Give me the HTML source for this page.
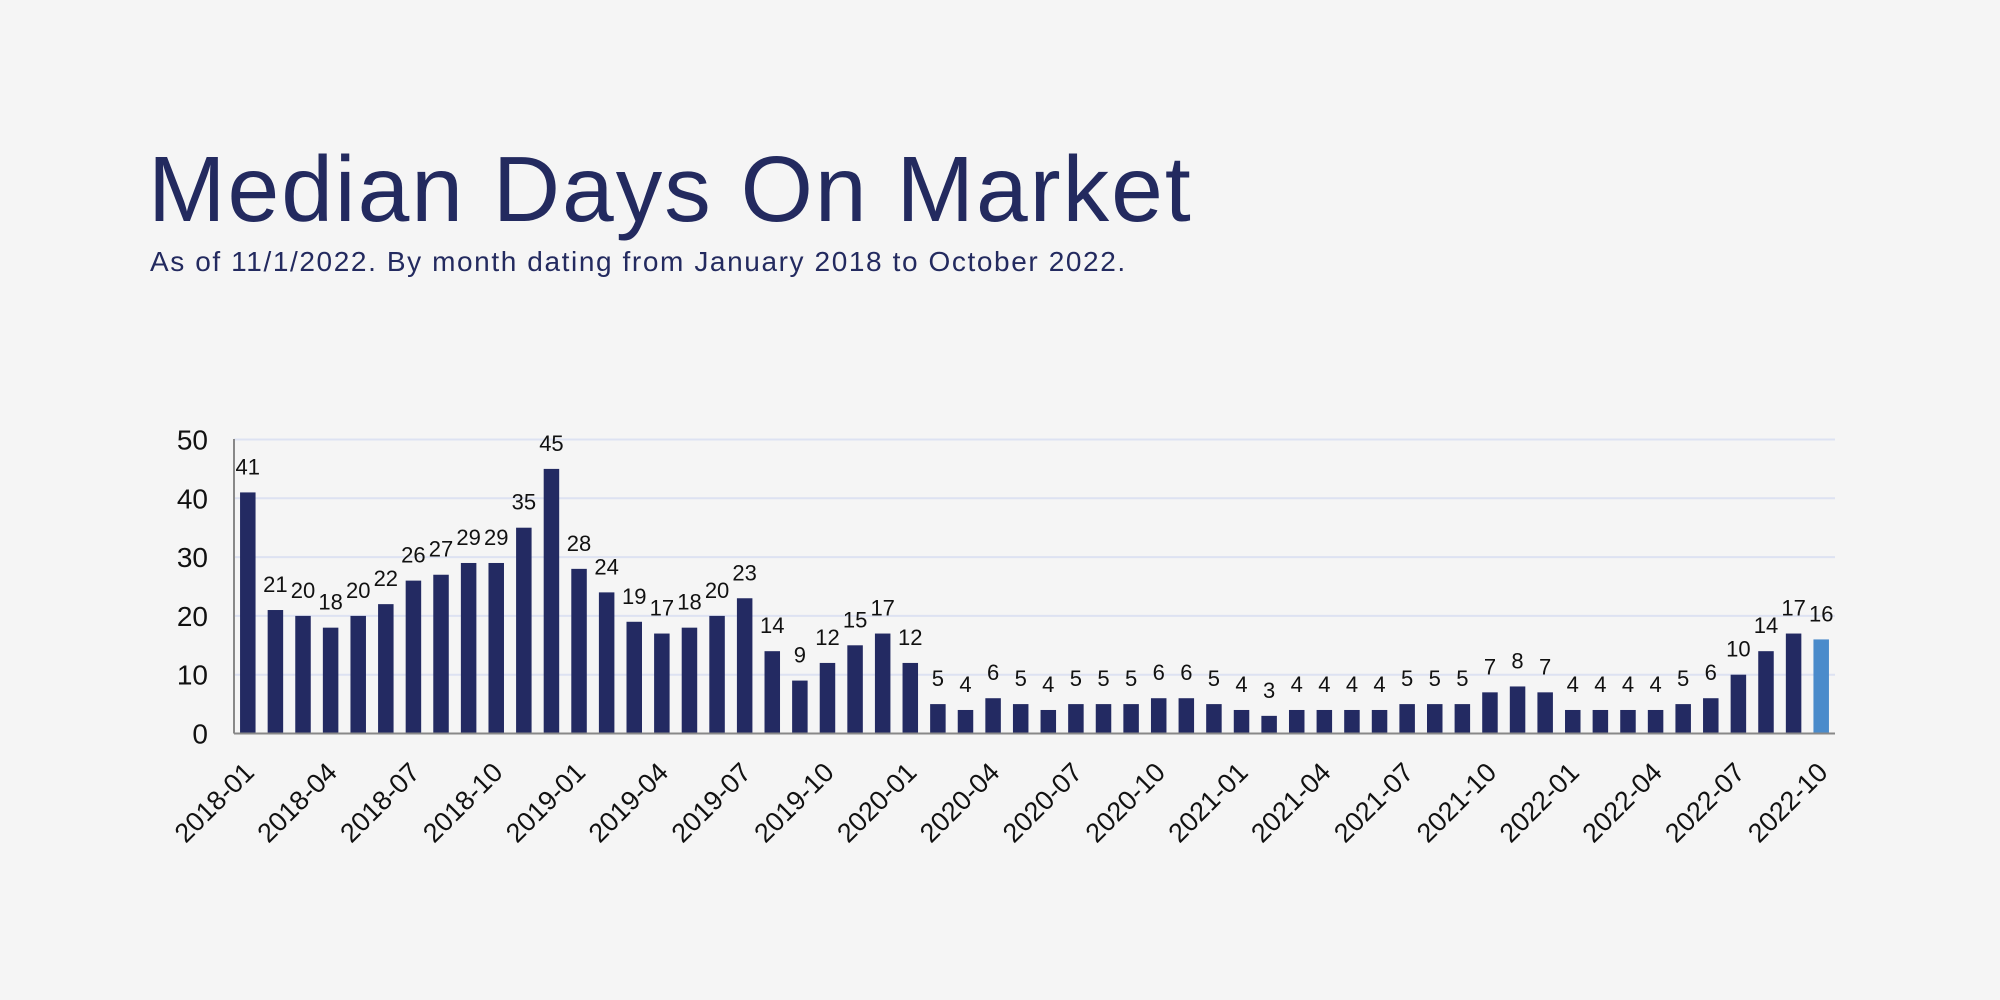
<!DOCTYPE html>
<html><head><meta charset="utf-8"><style>
html,body{margin:0;padding:0;background:#f5f5f5;}
body{width:2000px;height:1000px;overflow:hidden;position:relative;font-family:"Liberation Sans",sans-serif;}
#t{position:absolute;left:148px;top:143px;font-size:93px;color:#232a5f;letter-spacing:2px;line-height:1;}
#s{position:absolute;left:150px;top:246px;font-size:28px;color:#232a5f;letter-spacing:1.6px;}
svg{position:absolute;left:0;top:0;}
</style></head><body>
<div id="t">Median Days On Market</div>
<div id="s">As of 11/1/2022. By month dating from January 2018 to October 2022.</div>
<svg id="c" width="2000" height="1000" xmlns="http://www.w3.org/2000/svg" font-family="Liberation Sans, sans-serif"></svg>
<script>
const d=[41,21,20,18,20,22,26,27,29,29,35,45,28,24,19,17,18,20,23,14,9,12,15,17,12,5,4,6,5,4,5,5,5,6,6,5,4,3,4,4,4,4,5,5,5,7,8,7,4,4,4,4,5,6,10,14,17,16];
const svg=document.getElementById('c');
let h='';
const x0=234,x1=1835,y0=733.5,k=5.88,bw=(x1-x0)/58;
for(let v=0;v<=50;v+=10){const y=y0-v*k;
 if(v>0)h+=`<line x1="${x0}" x2="${x1}" y1="${y}" y2="${y}" stroke="#dde2f2" stroke-width="2"/>`;
 h+=`<text x="208" y="${y+10}" font-size="28" text-anchor="end" fill="#111">${v}</text>`;}
d.forEach((v,i)=>{const cx=x0+bw*(i+0.5),w=15.5,y=y0-v*k;
 h+=`<rect x="${cx-w/2}" y="${y}" width="${w}" height="${v*k}" fill="${i==57?'#4a8bcb':'#232a62'}"/>`;
 h+=`<text x="${cx}" y="${y-18}" font-size="22" text-anchor="middle" fill="#111">${v}</text>`;
 if(i%3==0){const yr=2018+Math.floor(i/12),m=String(i%12+1).padStart(2,'0');
  h+=`<text x="${cx+8}" y="774" font-size="27" text-anchor="end" fill="#111" transform="rotate(-45 ${cx+8} 774)">${yr}-${m}</text>`;}
});
h+=`<line x1="${x0}" x2="${x0}" y1="439" y2="${y0}" stroke="#888" stroke-width="2"/>`;
h+=`<line x1="${x0}" x2="${x1}" y1="${y0}" y2="${y0}" stroke="#888" stroke-width="2"/>`;
svg.innerHTML=h;
</script>
</body></html>
